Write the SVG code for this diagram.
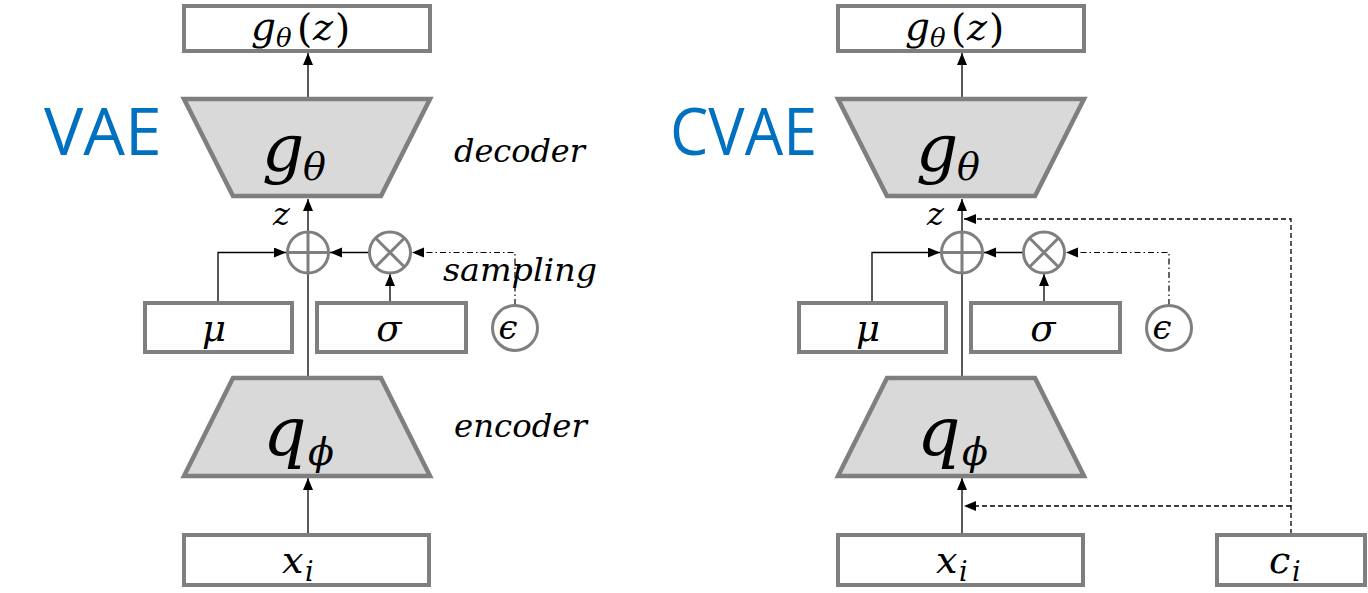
<svg xmlns="http://www.w3.org/2000/svg" width="1368" height="593" viewBox="0 0 1368 593">
<style>
.box{fill:#fff;stroke:#7f7f7f;stroke-width:4}
.trap{fill:#d9d9d9;stroke:#7f7f7f;stroke-width:4.5;stroke-linejoin:miter}
.op{fill:#fff;stroke:#7f7f7f;stroke-width:3}
.opl{stroke:#7f7f7f;stroke-width:3}
.ln{fill:none;stroke:#000;stroke-width:1.3}
.dd{fill:none;stroke:#000;stroke-width:1.2;stroke-dasharray:6 3 1.5 3}
.ds{fill:none;stroke:#000;stroke-width:1.3;stroke-dasharray:5 3}
.m{font-family:"DejaVu Serif",serif;font-style:italic;fill:#000}
.u{font-family:"DejaVu Serif",serif;font-style:normal;fill:#000}
.lbl{font-family:"DejaVu Serif",serif;font-style:italic;font-size:31px;fill:#000}
.title{font-family:"Open Sans","Noto Sans",sans-serif;font-size:66px;fill:#0070c0}
</style>
<defs>
<marker id="ah" markerUnits="userSpaceOnUse" markerWidth="13" markerHeight="11" refX="12" refY="5" orient="auto">
<path d="M0,0 L12,5 L0,10 z" fill="#000"/>
</marker>
</defs>

<g id="connectors">
<!-- VAE -->
<line class="ln" x1="308" y1="97" x2="308" y2="53" marker-end="url(#ah)"/>
<line class="ln" x1="308" y1="376" x2="308" y2="199" marker-end="url(#ah)"/>
<polyline class="ln" points="218,302 218,252.5 286,252.5" marker-end="url(#ah)"/>
<line class="ln" x1="390" y1="301" x2="390" y2="274" marker-end="url(#ah)"/>
<line class="ln" x1="369" y1="252.5" x2="330" y2="252.5" marker-end="url(#ah)"/>
<polyline class="dd" points="515,305 515,252.5 412,252.5" marker-end="url(#ah)"/>
<line class="ln" x1="308" y1="534" x2="308" y2="478" marker-end="url(#ah)"/>
<!-- CVAE -->
<line class="ln" x1="962" y1="97" x2="962" y2="53" marker-end="url(#ah)"/>
<line class="ln" x1="962" y1="376" x2="962" y2="199" marker-end="url(#ah)"/>
<polyline class="ln" points="872,302 872,252.5 940,252.5" marker-end="url(#ah)"/>
<line class="ln" x1="1044" y1="301" x2="1044" y2="274" marker-end="url(#ah)"/>
<line class="ln" x1="1023" y1="252.5" x2="984" y2="252.5" marker-end="url(#ah)"/>
<polyline class="dd" points="1169,305 1169,252.5 1066,252.5" marker-end="url(#ah)"/>
<line class="ln" x1="962" y1="534" x2="962" y2="478" marker-end="url(#ah)"/>
<polyline class="ds" points="1291,534 1291,219 964,219" marker-end="url(#ah)"/>
<line class="ds" x1="1291" y1="506" x2="964" y2="506" marker-end="url(#ah)"/>
</g>

<!-- ===== VAE ===== -->
<g id="title_vae"><text class="title" x="44" y="155">VAE</text></g>
<g id="out_L">
<rect class="box" x="184" y="6" width="246" height="45"/>
<text class="m" font-size="39" x="251" y="40">g</text>
<text class="m" font-size="26" x="276" y="47">θ</text>
<text class="u" font-size="39" x="297" y="42">(</text>
<text class="m" font-size="38" x="313" y="40">z</text>
<text class="u" font-size="39" x="335" y="42">)</text>
</g>
<g id="dec_L">
<polygon class="trap" points="184,99 430,99 381,196 233,196"/>
<text class="m" font-size="66" x="262" y="170">g</text>
<text class="m" font-size="38" x="303" y="180">θ</text>
</g>
<g id="lbl_dec"><text class="lbl" x="454" y="162" textLength="131" lengthAdjust="spacingAndGlyphs">decoder</text></g>
<g id="zlbl_L"><text class="m" font-size="32" x="273" y="225">z</text></g>
<g id="plus_L">
<circle class="op" cx="308" cy="252.5" r="20.5"/>
<line class="opl" x1="287.5" y1="252.5" x2="328.5" y2="252.5"/>
<line class="opl" x1="308" y1="232" x2="308" y2="273"/>
</g>
<g id="times_L">
<circle class="op" cx="390" cy="252.5" r="20.5"/>
<line class="opl" x1="375.5" y1="238" x2="404.5" y2="267"/>
<line class="opl" x1="404.5" y1="238" x2="375.5" y2="267"/>
</g>
<g id="lbl_samp"><text class="lbl" x="443" y="281" textLength="154" lengthAdjust="spacingAndGlyphs">sampling</text></g>
<g id="mu_L">
<rect class="box" x="145" y="303" width="147" height="49"/>
<text class="m" font-size="37" x="214" y="341" text-anchor="middle">μ</text>
</g>
<g id="sigma_L">
<rect class="box" x="317" y="303" width="149" height="49"/>
<text class="m" font-size="37" x="389" y="341" text-anchor="middle">σ</text>
</g>
<g id="eps_L">
<circle class="op" cx="515" cy="328" r="22.5"/>
<text class="m" font-size="34" x="508" y="339" text-anchor="middle">ϵ</text>
</g>
<g id="enc_L">
<polygon class="trap" points="233,378 381,378 430,476 184,476"/>
<text class="m" font-size="68" x="263" y="455">q</text>
<text class="m" font-size="38" x="308" y="465">ϕ</text>
</g>
<g id="lbl_enc"><text class="lbl" x="454" y="437" textLength="133" lengthAdjust="spacingAndGlyphs">encoder</text></g>
<g id="x_L">
<rect class="box" x="184" y="535" width="245" height="50"/>
<text class="m" font-size="38" x="282" y="573">x</text>
<text class="m" font-size="27" x="305" y="581">i</text>
</g>

<!-- ===== CVAE ===== -->
<g id="title_cvae"><text class="title" x="670" y="155" textLength="147" lengthAdjust="spacingAndGlyphs">CVAE</text></g>
<g id="out_R">
<rect class="box" x="838" y="6" width="246" height="45"/>
<text class="m" font-size="39" x="905" y="40">g</text>
<text class="m" font-size="26" x="930" y="47">θ</text>
<text class="u" font-size="39" x="951" y="42">(</text>
<text class="m" font-size="38" x="967" y="40">z</text>
<text class="u" font-size="39" x="989" y="42">)</text>
</g>
<g id="dec_R">
<polygon class="trap" points="838,99 1084,99 1035,196 887,196"/>
<text class="m" font-size="66" x="916" y="170">g</text>
<text class="m" font-size="38" x="957" y="180">θ</text>
</g>
<g id="zlbl_R"><text class="m" font-size="32" x="927" y="225">z</text></g>
<g id="plus_R">
<circle class="op" cx="962" cy="252.5" r="20.5"/>
<line class="opl" x1="941.5" y1="252.5" x2="982.5" y2="252.5"/>
<line class="opl" x1="962" y1="232" x2="962" y2="273"/>
</g>
<g id="times_R">
<circle class="op" cx="1044" cy="252.5" r="20.5"/>
<line class="opl" x1="1029.5" y1="238" x2="1058.5" y2="267"/>
<line class="opl" x1="1058.5" y1="238" x2="1029.5" y2="267"/>
</g>
<g id="mu_R">
<rect class="box" x="799" y="303" width="147" height="49"/>
<text class="m" font-size="37" x="868" y="341" text-anchor="middle">μ</text>
</g>
<g id="sigma_R">
<rect class="box" x="971" y="303" width="149" height="49"/>
<text class="m" font-size="37" x="1043" y="341" text-anchor="middle">σ</text>
</g>
<g id="eps_R">
<circle class="op" cx="1169" cy="328" r="22.5"/>
<text class="m" font-size="34" x="1162" y="339" text-anchor="middle">ϵ</text>
</g>
<g id="enc_R">
<polygon class="trap" points="887,378 1035,378 1084,476 838,476"/>
<text class="m" font-size="68" x="917" y="455">q</text>
<text class="m" font-size="38" x="962" y="465">ϕ</text>
</g>
<g id="x_R">
<rect class="box" x="838" y="535" width="245" height="50"/>
<text class="m" font-size="38" x="936" y="573">x</text>
<text class="m" font-size="27" x="959" y="581">i</text>
</g>
<g id="c_R">
<rect class="box" x="1217" y="535" width="148" height="50"/>
<text class="m" font-size="38" x="1269" y="573">c</text>
<text class="m" font-size="27" x="1292" y="581">i</text>
</g>
</svg>
